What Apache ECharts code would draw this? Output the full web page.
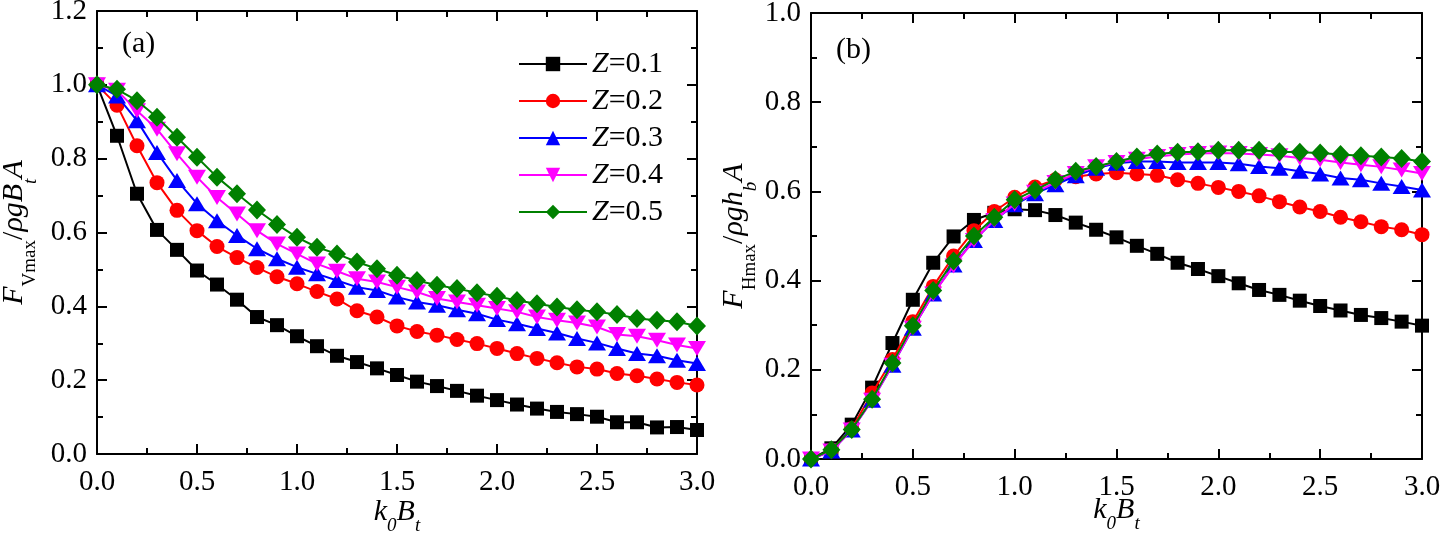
<!DOCTYPE html>
<html><head><meta charset="utf-8">
<script src="https://cdn.jsdelivr.net/npm/echarts@6/dist/echarts.min.js"></script>
<style>html,body{margin:0;padding:0;background:#fff}#c{width:1440px;height:533px}</style>
</head><body><div id="c"></div>
<script>
const xValues = [0.0,0.1,0.2,0.3,0.4,0.5,0.6,0.7,0.8,0.9,1.0,1.1,1.2,1.3,1.4,1.5,1.6,1.7,1.8,1.9,2.0,2.1,2.2,2.3,2.4,2.5,2.6,2.7,2.8,2.9,3.0];
const seriesNames = ['Z=0.1','Z=0.2','Z=0.3','Z=0.4','Z=0.5'];
// Panel (a): F_Vmax / (rho g B_t A)
const vZ1 = [1.0,0.862,0.705,0.607,0.553,0.497,0.459,0.418,0.371,0.349,0.319,0.292,0.266,0.249,0.232,0.214,0.196,0.184,0.171,0.158,0.146,0.134,0.123,0.114,0.108,0.101,0.086,0.086,0.072,0.073,0.065];
const vZ2 = [1.0,0.945,0.835,0.735,0.66,0.605,0.562,0.532,0.505,0.48,0.461,0.44,0.42,0.388,0.371,0.347,0.332,0.322,0.31,0.299,0.286,0.272,0.259,0.247,0.236,0.23,0.218,0.212,0.203,0.194,0.187];
const vZ3 = [1.0,0.97,0.903,0.817,0.741,0.678,0.632,0.592,0.556,0.529,0.506,0.488,0.47,0.452,0.443,0.425,0.412,0.403,0.391,0.38,0.364,0.353,0.34,0.328,0.313,0.301,0.286,0.272,0.266,0.254,0.245];
const vZ4 = [1.0,0.985,0.93,0.88,0.813,0.75,0.695,0.65,0.605,0.569,0.542,0.515,0.495,0.475,0.466,0.452,0.439,0.421,0.412,0.403,0.394,0.385,0.371,0.362,0.355,0.344,0.324,0.319,0.308,0.295,0.286];
const vZ5 = [1.0,0.988,0.957,0.912,0.858,0.804,0.75,0.705,0.661,0.622,0.587,0.56,0.542,0.52,0.502,0.484,0.47,0.457,0.448,0.437,0.427,0.416,0.407,0.398,0.391,0.385,0.378,0.367,0.362,0.358,0.347];
// Panel (b): F_Hmax / (rho g h_b A)
const hZ1 = [0,0.024,0.077,0.16,0.26,0.357,0.44,0.499,0.536,0.552,0.56,0.558,0.547,0.53,0.514,0.497,0.478,0.46,0.44,0.426,0.41,0.394,0.379,0.368,0.355,0.343,0.333,0.323,0.316,0.308,0.299];
const hZ2 = [0,0.02,0.068,0.148,0.223,0.308,0.387,0.455,0.512,0.555,0.587,0.61,0.626,0.633,0.639,0.642,0.639,0.636,0.626,0.618,0.609,0.6,0.59,0.577,0.565,0.555,0.542,0.532,0.521,0.514,0.503];
const hZ3 = [0,0.018,0.065,0.132,0.21,0.293,0.37,0.435,0.49,0.535,0.57,0.595,0.615,0.635,0.652,0.663,0.667,0.667,0.665,0.665,0.665,0.662,0.656,0.652,0.645,0.639,0.63,0.626,0.618,0.611,0.603];
const hZ4 = [0,0.018,0.065,0.132,0.21,0.293,0.37,0.433,0.49,0.535,0.572,0.598,0.62,0.64,0.655,0.665,0.672,0.678,0.683,0.685,0.686,0.685,0.683,0.68,0.675,0.671,0.665,0.66,0.655,0.648,0.64];
const hZ5 = [0,0.021,0.066,0.134,0.215,0.299,0.378,0.444,0.50,0.542,0.581,0.603,0.626,0.645,0.656,0.667,0.677,0.684,0.688,0.689,0.692,0.692,0.692,0.689,0.688,0.686,0.683,0.68,0.677,0.674,0.667];
const xTickLabels = ['0.0','0.5','1.0','1.5','2.0','2.5','3.0'];
const yTickLabelsA = ['0.0','0.2','0.4','0.6','0.8','1.0','1.2'];
const yTickLabelsB = ['0.0','0.2','0.4','0.6','0.8','1.0'];

const FONT = "'Liberation Serif','Times New Roman',serif";
const colors = ['#000000','#ff0000','#0000ff','#ff00ff','#008000'];
const symbols = ['rect','circle','triangle','triangle','diamond'];
const symbolSizes = [14,15,[18,15],[18,15],[18,19]];
const rotates = [0,0,0,180,0];

function makeRich(lh) {
  return {
    i: {fontFamily: FONT, fontStyle: 'italic', fontSize: 30, color: '#000', lineHeight: lh, verticalAlign: 'middle'},
    r: {fontFamily: FONT, fontSize: 30, color: '#000', lineHeight: lh, verticalAlign: 'middle'},
    s: {fontFamily: FONT, fontSize: 19, color: '#000', lineHeight: 19, verticalAlign: 'bottom'},
    si: {fontFamily: FONT, fontStyle: 'italic', fontSize: 19, color: '#000', lineHeight: 19, verticalAlign: 'bottom'}
  };
}

function xAxes(grid, gap) {
  const base = {
    type: 'value', gridIndex: grid, min: 0, max: 3, interval: 0.5,
    axisLine: {onZero: false, lineStyle: {color: '#000', width: 2}},
    axisTick: {inside: true, length: 10, lineStyle: {color: '#000', width: 2}},
    minorTick: {show: true, splitNumber: 2, length: 6, lineStyle: {color: '#000', width: 2}},
    splitLine: {show: false}
  };
  return [
    Object.assign({}, base, {
      position: 'bottom',
      axisLabel: {fontFamily: FONT, fontSize: 29, color: '#000', margin: 14,
        formatter: v => xTickLabels[Math.round(v / 0.5)]},
      name: '{i|k}{si|0}{i|B}{si|t}', nameLocation: 'middle', nameGap: gap,
      nameMoveOverlap: false,
      nameTextStyle: {rich: makeRich(46)}
    }),
    Object.assign({}, base, {position: 'top', axisLabel: {show: false}})
  ];
}
function yAxes(grid, max, labels, name, gap) {
  const base = {
    type: 'value', gridIndex: grid, min: 0, max: max, interval: 0.2,
    axisLine: {onZero: false, lineStyle: {color: '#000', width: 2}},
    axisTick: {inside: true, length: 10, lineStyle: {color: '#000', width: 2}},
    minorTick: {show: true, splitNumber: 2, length: 6, lineStyle: {color: '#000', width: 2}},
    splitLine: {show: false}
  };
  return [
    Object.assign({}, base, {
      position: 'left',
      axisLabel: {fontFamily: FONT, fontSize: 29, color: '#000', margin: 10,
        formatter: v => labels[Math.round(v / 0.2)]},
      name: name, nameLocation: 'middle', nameGap: gap,
      nameMoveOverlap: false,
      nameTextStyle: {rich: makeRich(52)}
    }),
    Object.assign({}, base, {position: 'right', axisLabel: {show: false}})
  ];
}

function makeSeries(arrs, xi, yi) {
  return arrs.map((arr, k) => ({
    name: seriesNames[k], type: 'line', xAxisIndex: xi, yAxisIndex: yi,
    data: xValues.map((x, j) => [x, arr[j]]),
    symbol: symbols[k], symbolSize: symbolSizes[k], symbolRotate: rotates[k],
    showAllSymbol: true, animation: false,
    lineStyle: {color: colors[k], width: 2},
    itemStyle: {color: colors[k]},
    z: 2 + k
  }));
}

const chart = echarts.init(document.getElementById('c'), null, {renderer: 'canvas'});
chart.setOption({
  backgroundColor: '#fff',
  animation: false,
  title: [
    {text: '(a)', left: 117, top: 24, textStyle: {fontFamily: FONT, fontSize: 30, fontWeight: 'normal', color: '#000'}},
    {text: '(b)', left: 831, top: 30, textStyle: {fontFamily: FONT, fontSize: 30, fontWeight: 'normal', color: '#000'}}
  ],
  grid: [
    {left: 97, top: 11, width: 600, height: 443, outerBoundsMode: 'none', containLabel: false},
    {left: 811, top: 13, width: 611, height: 446, outerBoundsMode: 'none', containLabel: false}
  ],
  legend: {
    data: seriesNames, orient: 'vertical', left: 513, top: 44,
    itemWidth: 68, itemHeight: 18, itemGap: 7,
    formatter: n => '{i|Z}{r|' + n.slice(1) + '}',
    textStyle: {
      rich: {
        i: {fontFamily: FONT, fontStyle: 'italic', fontSize: 30, color: '#000'},
        r: {fontFamily: FONT, fontSize: 30, color: '#000'}
      }
    }
  },
  xAxis: [].concat(xAxes(0, 35), xAxes(1, 28)),
  yAxis: [].concat(
    yAxes(0, 1.2, yTickLabelsA, '{i|F}{s|Vmax}{r|/}{i|ρgB}{si|t}{i|A}', 57),
    yAxes(1, 1.0, yTickLabelsB, '{i|F}{s|Hmax}{r|/}{i|ρgh}{si|b}{i|A}', 51)
  ),
  series: [].concat(
    makeSeries([vZ1, vZ2, vZ3, vZ4, vZ5], 0, 0),
    makeSeries([hZ1, hZ2, hZ3, hZ4, hZ5], 2, 2)
  )
});
</script></body></html>
